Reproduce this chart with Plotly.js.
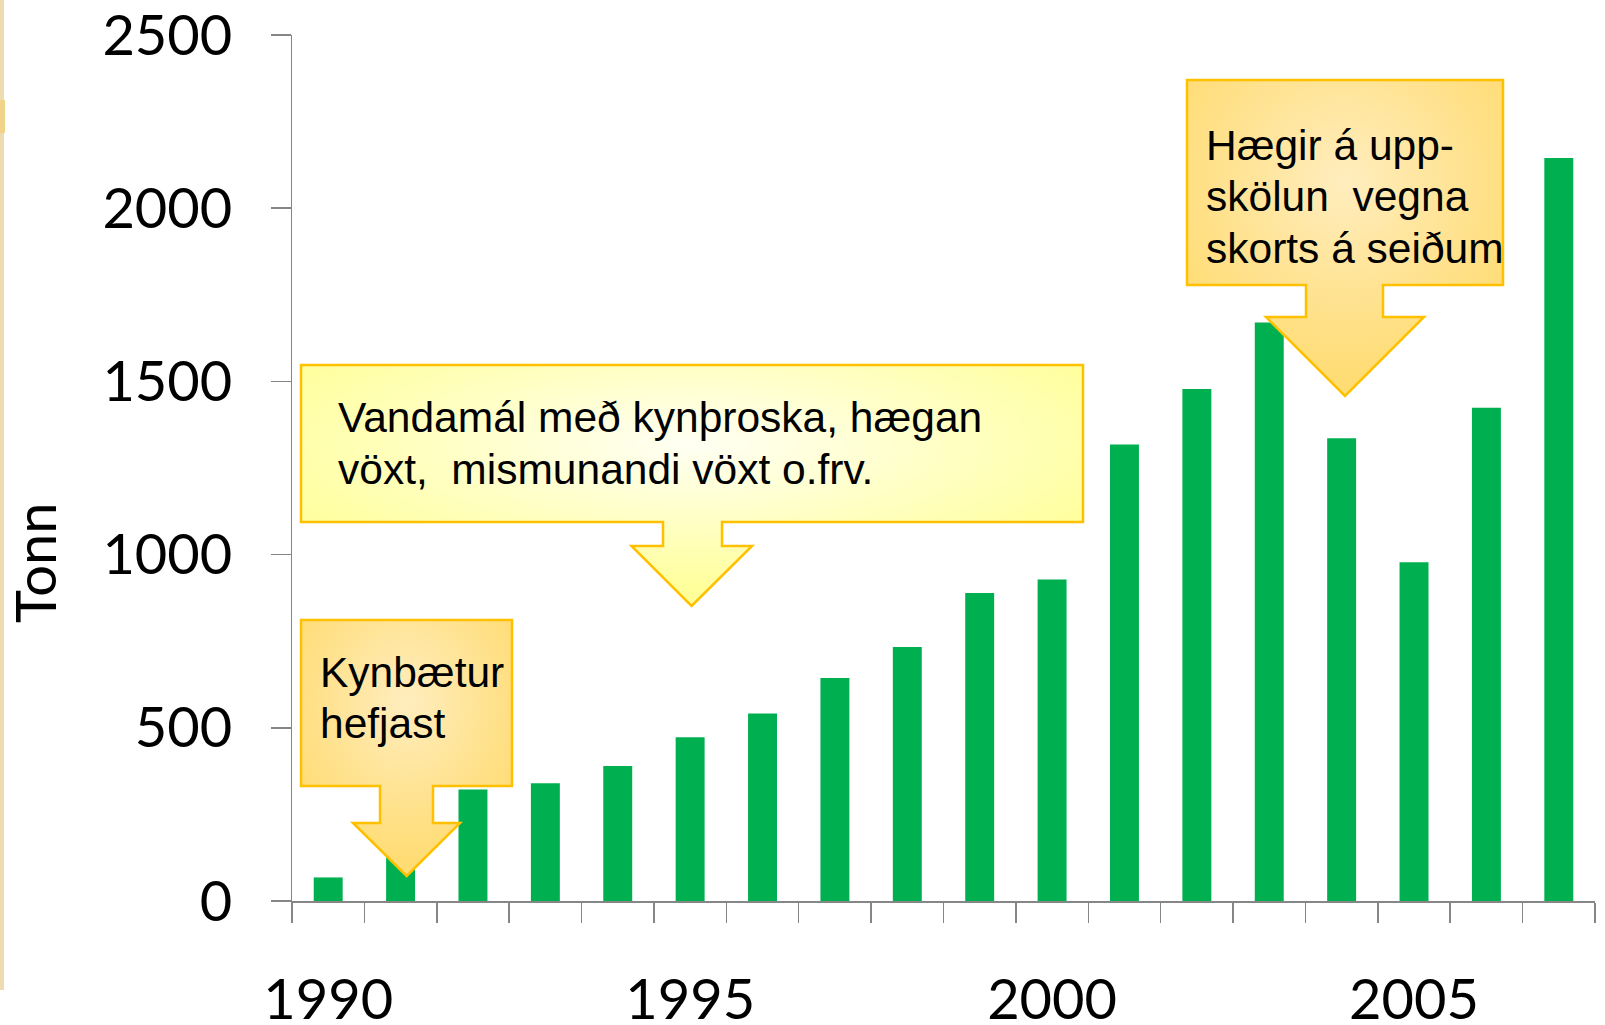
<!DOCTYPE html>
<html>
<head>
<meta charset="utf-8">
<script src="https://cdn.plot.ly/plotly-3.0.1.min.js"></script>
<style>
  html, body { margin: 0; padding: 0; background: #ffffff; }
  #chart { width: 1605px; height: 1025px; }
</style>
</head>
<body>
<div id="chart"></div>
<script>
// ---- data ----
const years = [1990, 1991, 1992, 1993, 1994, 1995, 1996, 1997, 1998, 1999,
               2000, 2001, 2002, 2003, 2004, 2005, 2006, 2007];
const tonn = [68, 170, 322, 340, 390, 473, 541, 644, 733, 889,
              928, 1318, 1478, 1670, 1336, 978, 1424, 2145];
const labelYears = [1990, 1995, 2000, 2005];
const yTicks = [0, 500, 1000, 1500, 2000, 2500];
const yTitle = "Tonn";
const calloutLines = [
  ["Kynbætur", "hefjast"],
  ["Vandamál með kynþroska, hægan", "vöxt,\u00a0 mismunandi vöxt o.frv."],
  ["Hægir á upp-", "skölun\u00a0 vegna", "skorts á seiðum"]
];

// ---- layout geometry (pixels) ----
const W = 1605, H = 1025, L = 292, R = 10, T = 35, B = 124;
const PW = W - L - R, PH = H - T - B;
const px = x => (x - L) / PW;
const py = y => (H - B - y) / PH;

const calloutGeom = [
  { box: [301, 620, 512, 786], shaft: [380, 433, 823], head: [353, 460], tip: [406.7, 876], textX: 319, baseline: 686 },
  { box: [301, 365, 1083, 522], shaft: [663, 722, 546], head: [631.5, 752], tip: [691.6, 606], textX: 336.5, baseline: 431.7 },
  { box: [1187, 80, 1503, 285], shaft: [1306, 1383, 317], head: [1266, 1424], tip: [1345, 396], textX: 1205, baseline: 159 }
];
const calloutFill = ["#FFE49A", "#FFFFC0", "#FFE49A"];
const calloutFontSize = 42.5;
const lineStep = 51.5;
const ascent = 0.905;

function calloutPath(g) {
  const [x0, y0, x1, y1] = g.box;
  const [sL, sR, sb] = g.shaft;
  const [hL, hR] = g.head;
  const [tx, ty] = g.tip;
  const pts = [[x0, y0], [x1, y0], [x1, y1], [sR, y1], [sR, sb], [hR, sb], [tx, ty],
               [hL, sb], [sL, sb], [sL, y1], [x0, y1]];
  return pts.map((p, i) => (i ? "L" : "M") + px(p[0]).toFixed(5) + "," + py(p[1]).toFixed(5)).join(" ") + " Z";
}

const tickText = years.map(y => labelYears.includes(y) ? String(y) : "");

const trace = {
  type: "bar",
  x: years.map(String),
  y: tonn,
  marker: { color: "#00B050", line: { width: 0 } },
  hoverinfo: "x+y"
};

const axisGray = "#868686";

const shapes = [
  { type: "rect", xref: "paper", yref: "paper", layer: "below",
    x0: px(0), x1: px(4), y0: py(990), y1: py(0),
    fillcolor: "#EEDCB0", line: { width: 0 } },
  { type: "rect", xref: "paper", yref: "paper", layer: "below",
    x0: px(0), x1: px(5), y0: py(133), y1: py(100),
    fillcolor: "#F0D48A", line: { width: 0 } }
];
calloutGeom.forEach((g, i) => {
  shapes.push({
    type: "path", xref: "paper", yref: "paper", layer: "above",
    path: calloutPath(g),
    fillcolor: calloutFill[i],
    line: { color: "#FFC000", width: 2.5 }
  });
});

const annotations = [];
calloutGeom.forEach((g, i) => {
  calloutLines[i].forEach((line, k) => {
    const top = g.baseline + k * lineStep - ascent * calloutFontSize;
    annotations.push({
      xref: "paper", yref: "paper",
      x: px(g.textX), y: py(top),
      xanchor: "left", yanchor: "top", align: "left",
      showarrow: false, borderpad: 0,
      text: line,
      font: { family: "Liberation Sans, Arial, sans-serif", size: calloutFontSize, color: "#000000" }
    });
  });
});
annotations.push({
  xref: "paper", yref: "paper",
  x: px(34), y: py(563),
  xanchor: "center", yanchor: "middle",
  showarrow: false, textangle: -90,
  text: yTitle,
  font: { family: "Lato, Calibri, sans-serif", size: 56, color: "#000000" }
});

const layout = {
  width: W, height: H,
  margin: { l: L, r: R, t: T, b: B, pad: 0 },
  paper_bgcolor: "#ffffff",
  plot_bgcolor: "#ffffff",
  showlegend: false,
  bargap: 0.6,
  font: { family: "Lato, Calibri, sans-serif", color: "#000000" },
  xaxis: {
    type: "category",
    range: [-0.5, years.length - 0.5],
    tickmode: "array",
    tickvals: years.map(String),
    ticktext: tickText,
    tickangle: 0,
    tickson: "boundaries",
    ticks: "outside", ticklen: 20, tickwidth: 1.5, tickcolor: axisGray,
    showline: true, linecolor: axisGray, linewidth: 1.5,
    showgrid: false, zeroline: false,
    ticklabelstandoff: 49,
    ticklabeloverflow: "allow",
    tickfont: { family: "Lato, Calibri, sans-serif", size: 56, color: "#000000" },
    fixedrange: true
  },
  yaxis: {
    range: [0, 2500],
    tickmode: "array",
    tickvals: yTicks,
    ticktext: yTicks.map(String),
    ticks: "outside", ticklen: 20, tickwidth: 1.5, tickcolor: axisGray,
    showline: true, linecolor: axisGray, linewidth: 1.5,
    showgrid: false, zeroline: false,
    ticklabelstandoff: 27,
    ticklabeloverflow: "allow",
    tickfont: { family: "Lato, Calibri, sans-serif", size: 56, color: "#000000" },
    fixedrange: true
  },
  shapes: shapes,
  annotations: annotations
};

const gd = document.getElementById("chart");
Plotly.newPlot(gd, [trace], layout, { displayModeBar: false, staticPlot: true }).then(() => {
  // soft "from centre" gradient fills for the callouts
  const svg = gd.querySelector("svg.main-svg");
  let defs = svg.querySelector("defs");
  if (!defs) { defs = document.createElementNS("http://www.w3.org/2000/svg", "defs"); svg.insertBefore(defs, svg.firstChild); }
  const grads = [
    { id: "cg0", inner: "#FFEDBE", outer: "#FFDC74", cy: 0.32 },
    { id: "cg1", inner: "#FFFFF4", outer: "#FFFF99", cy: 0.33 },
    { id: "cg2", inner: "#FFEDBE", outer: "#FFDC74", cy: 0.32 }
  ];
  grads.forEach(gr => {
    const rg = document.createElementNS("http://www.w3.org/2000/svg", "radialGradient");
    rg.setAttribute("id", gr.id);
    rg.setAttribute("cx", "0.5"); rg.setAttribute("cy", gr.cy);
    rg.setAttribute("r", "0.62");
    [[0, gr.inner], [1, gr.outer]].forEach(([o, c]) => {
      const st = document.createElementNS("http://www.w3.org/2000/svg", "stop");
      st.setAttribute("offset", o); st.setAttribute("stop-color", c);
      rg.appendChild(st);
    });
    defs.appendChild(rg);
  });
  const paths = gd.querySelectorAll(".layer-above .shapelayer path");
  paths.forEach((p, i) => { if (i < grads.length) p.style.fill = "url(#" + grads[i].id + ")"; });
});
</script>
</body>
</html>
